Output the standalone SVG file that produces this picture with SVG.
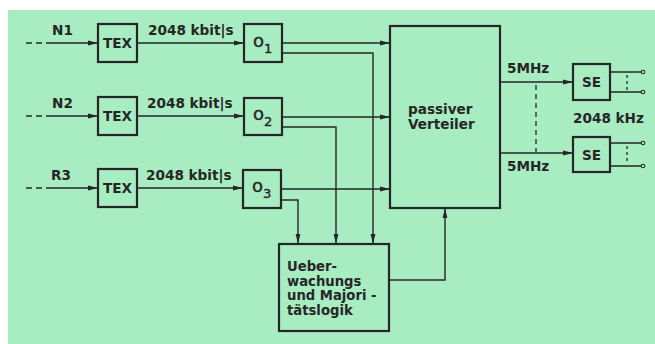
<svg xmlns="http://www.w3.org/2000/svg" width="655" height="344" viewBox="0 0 655 344">
<defs>
<style>
.box{fill:none;stroke:#262626;stroke-width:2.2}
.ln{fill:none;stroke:#262626;stroke-width:1.4}
.ds{fill:none;stroke:#262626;stroke-width:1.4;stroke-dasharray:6,4}
.t{font-family:"DejaVu Sans","Liberation Sans",sans-serif;font-weight:bold;font-size:13.6px;fill:#262626}
.s{font-family:"DejaVu Sans","Liberation Sans",sans-serif;font-weight:bold;font-size:13.6px;fill:#262626}
.lg{font-family:"DejaVu Sans","Liberation Sans",sans-serif;font-weight:bold;font-size:13.2px;fill:#262626}
.o{font-family:"DejaVu Sans","Liberation Sans",sans-serif;font-weight:normal;font-size:18px;fill:#262626;stroke:#262626;stroke-width:0.4}
.sub{font-size:13px}
</style>
<marker id="ar" viewBox="0 0 10 6" refX="10" refY="3" markerWidth="10" markerHeight="6" markerUnits="userSpaceOnUse" orient="auto">
<path d="M0,0.6 L10,3 L0,5.4 Z" fill="#262626"/>
</marker>
</defs>
<rect x="0" y="0" width="655" height="344" fill="#ffffff"/>
<rect x="8" y="10" width="647" height="334" fill="#a8edc2"/>

<g id="connectors">
<path class="ds" d="M26,43 H46"/><path class="ln" d="M46,43 H98" marker-end="url(#ar)"/>
<path class="ds" d="M26,116 H46"/><path class="ln" d="M46,116 H98" marker-end="url(#ar)"/>
<path class="ds" d="M26,188 H46"/><path class="ln" d="M46,188 H98" marker-end="url(#ar)"/>
<path class="ln" d="M137,43 H244" marker-end="url(#ar)"/>
<path class="ln" d="M137,116 H244" marker-end="url(#ar)"/>
<path class="ln" d="M137,188 H243" marker-end="url(#ar)"/>
<path class="ln" d="M282,43 H390" marker-end="url(#ar)"/>
<path class="ln" d="M282,117 H390" marker-end="url(#ar)"/>
<path class="ln" d="M281,189 H390" marker-end="url(#ar)"/>
<path class="ln" d="M282,53 H373 V244" marker-end="url(#ar)"/>
<path class="ln" d="M282,127 H336 V244" marker-end="url(#ar)"/>
<path class="ln" d="M281,200 H298 V244" marker-end="url(#ar)"/>
<path class="ln" d="M389,280 H445 V208" marker-end="url(#ar)"/>
<path class="ln" d="M500,82 H573" marker-end="url(#ar)"/>
<path class="ln" d="M500,153 H573" marker-end="url(#ar)"/>
<path d="M536,85 V152" stroke-dasharray="5,4" stroke="#262626" stroke-width="1.3" fill="none"/>
<path class="ln" d="M610,72 H641 M610,92 H641 M610,143 H641 M610,166 H641"/>
<path d="M627,75 V90 M627,146 V163" stroke="#262626" stroke-width="1.3" stroke-dasharray="3,3" fill="none"/>
<g fill="#a8edc2" stroke="#262626" stroke-width="1.1">
<circle cx="643" cy="72" r="1.8"/><circle cx="643" cy="92" r="1.8"/>
<circle cx="643" cy="143" r="1.8"/><circle cx="643" cy="166" r="1.8"/>
</g>
</g>

<g id="N1"><text class="t" x="52" y="35">N1</text></g>
<g id="N2"><text class="t" x="52" y="108">N2</text></g>
<g id="R3"><text class="t" x="51" y="180">R3</text></g>

<g id="tex1"><rect class="box" x="98" y="24" width="39" height="38"/><text class="s" x="117.5" y="48" text-anchor="middle">TEX</text></g>
<g id="tex2"><rect class="box" x="98" y="97" width="39" height="38"/><text class="s" x="117.5" y="121" text-anchor="middle">TEX</text></g>
<g id="tex3"><rect class="box" x="98" y="169" width="39" height="38"/><text class="s" x="117.5" y="193" text-anchor="middle">TEX</text></g>

<g id="rate1"><text class="t" x="148" y="35">2048 kbit|s</text></g>
<g id="rate2"><text class="t" x="147" y="108">2048 kbit|s</text></g>
<g id="rate3"><text class="t" x="146" y="180">2048 kbit|s</text></g>

<g id="o1"><rect class="box" x="244" y="24" width="38" height="38"/><text class="o" x="253" y="47">o<tspan class="sub" dy="6">1</tspan></text></g>
<g id="o2"><rect class="box" x="244" y="98" width="38" height="37"/><text class="o" x="253" y="120">o<tspan class="sub" dy="6">2</tspan></text></g>
<g id="o3"><rect class="box" x="243" y="170" width="38" height="38"/><text class="o" x="252" y="192">o<tspan class="sub" dy="6">3</tspan></text></g>

<g id="verteiler"><rect class="box" x="390" y="26" width="110" height="182"/>
<text class="s" x="408" y="114">passiver</text><text class="s" x="408" y="129">Verteiler</text></g>

<g id="logik"><rect class="box" x="279" y="244" width="110" height="87"/>
<text class="lg" x="287" y="271">Ueber-</text>
<text class="lg" x="287" y="286">wachungs</text>
<text class="lg" x="287" y="300">und Majori -</text>
<text class="lg" x="287" y="315">tätslogik</text></g>

<g id="f1"><text class="s" x="507" y="73">5MHz</text></g>
<g id="f2"><text class="s" x="507" y="171">5MHz</text></g>
<g id="se1"><rect class="box" x="573" y="64" width="37" height="36"/><text class="s" x="591.5" y="87" text-anchor="middle">SE</text></g>
<g id="se2"><rect class="box" x="573" y="137" width="37" height="35"/><text class="s" x="591.5" y="160" text-anchor="middle">SE</text></g>
<g id="clk"><text class="s" x="573" y="123">2048 kHz</text></g>
</svg>
